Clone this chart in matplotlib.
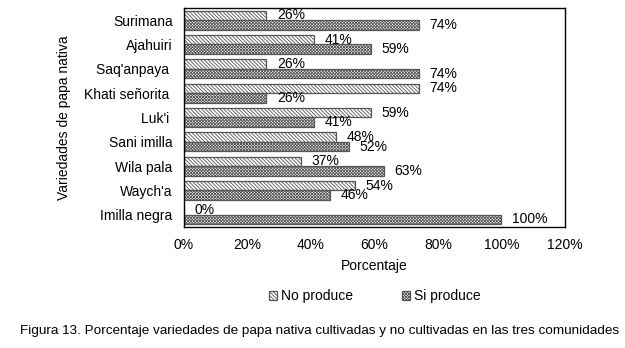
import matplotlib.pyplot as plt
import numpy as np

plt.rcParams['font.family'] = ['Liberation Sans', 'DejaVu Sans']
plt.rcParams['hatch.linewidth'] = 0.6

variedades = ['Surimana', 'Ajahuiri', "Saq'anpaya ", 'Khati señorita ', "Luk'i ",
              'Sani imilla', 'Wila pala', "Waych'a", 'Imilla negra']
no_produce = [26, 41, 26, 74, 59, 48, 37, 54, 0]
si_produce = [74, 59, 74, 26, 41, 52, 63, 46, 100]

fig = plt.figure(figsize=(6.25, 3.48), dpi=100)
ax = fig.add_axes([0.294, 0.348, 0.61, 0.629])

y = np.arange(len(variedades))
h = 0.39
b1 = ax.barh(y - h / 2, no_produce, height=h, color='white', edgecolor='#555555',
             hatch='\\' * 9, linewidth=0.9, label='No produce')
b2 = ax.barh(y + h / 2, si_produce, height=h, color='white', edgecolor='#555555',
             hatch='x' * 11, linewidth=0.9, label='Si produce')
for b in list(b1) + list(b2):
    b.set_edgecolor('#555555')

for bars, vals in ((b1, no_produce), (b2, si_produce)):
    for bar, v in zip(bars, vals):
        ax.annotate(f'{v}%', (bar.get_width(), bar.get_y() + bar.get_height() / 2),
                    xytext=(7.5, 0), textcoords='offset points', va='center', ha='left',
                    fontsize=10)

ax.set_xlim(0, 120)
ax.set_ylim(len(variedades) - 0.5, -0.5)
ax.set_xticks(range(0, 121, 20))
ax.set_xticklabels([f'{t}%' for t in range(0, 121, 20)])
ax.set_yticks(y)
ax.set_yticklabels(variedades)
ax.tick_params(length=0, labelsize=10)
ax.tick_params(axis='x', pad=8)
ax.tick_params(axis='y', pad=8)
for s in ax.spines.values():
    s.set_linewidth(1.0)
    s.set_color('black')

ax.set_xlabel('Porcentaje', fontsize=10, labelpad=5)
ax.set_ylabel('Variedades de papa nativa', fontsize=10, labelpad=9)

fig.legend(handles=[b1, b2], loc='center', bbox_to_anchor=(0.6, 0.148), ncol=2,
           frameon=False, fontsize=10, handlelength=0.6, handleheight=0.6,
           handletextpad=0.3, columnspacing=3.5)

fig.text(0.032, 0.05, 'Figura 13. Porcentaje variedades de papa nativa cultivadas y no cultivadas en las tres comunidades',
         fontsize=9.7, ha='left', va='center')

fig.savefig('out.png', dpi=100)
